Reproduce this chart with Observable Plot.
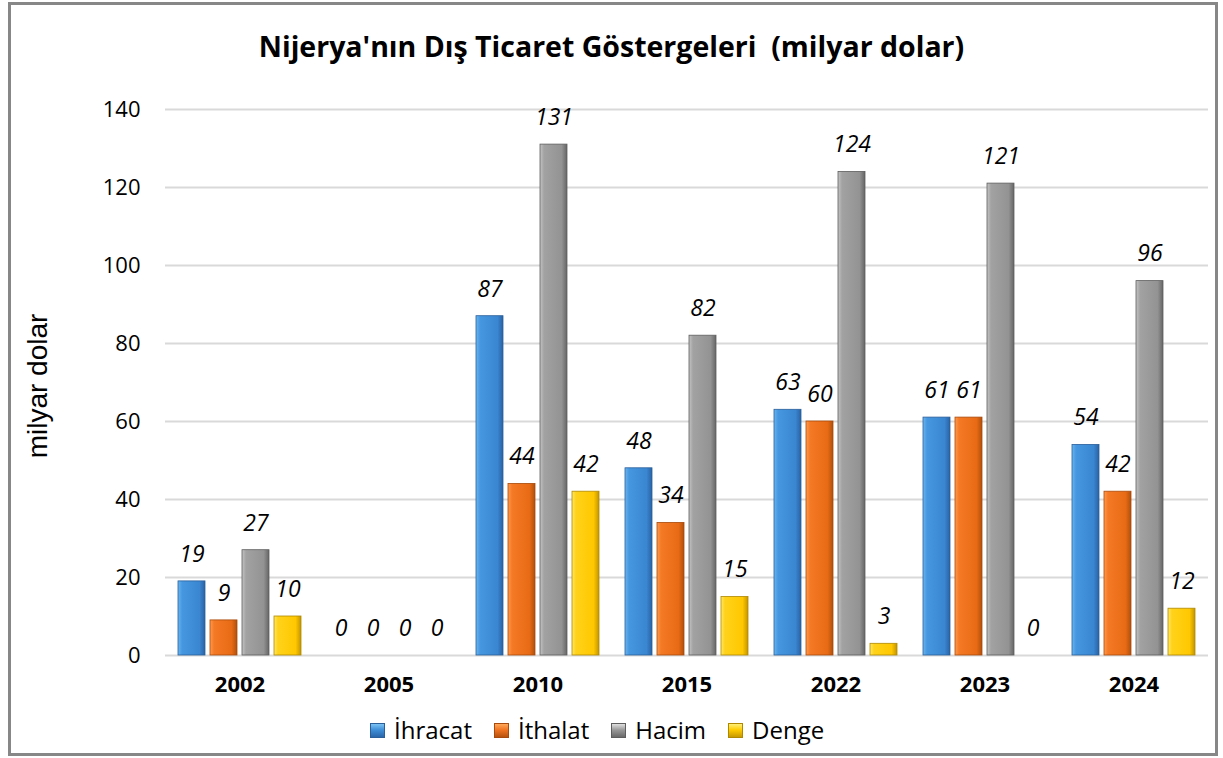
<!DOCTYPE html>
<html><head><meta charset="utf-8">
<script src="https://cdn.jsdelivr.net/npm/d3@7"></script>
<script src="https://cdn.jsdelivr.net/npm/@observablehq/plot@0.6"></script>
<style>
body{margin:0;background:#fff;font-family:"Open Sans",Lato,sans-serif;color:#000;}
#frame{position:absolute;left:8px;top:2px;width:1204px;height:748px;border:3px solid #878787;}
#title{position:absolute;left:0;width:1223px;top:27px;text-align:center;font-weight:bold;font-size:28.5px;line-height:38px;}
#chart{position:absolute;left:0;top:0;}
#ylabel{position:absolute;left:38px;top:386px;transform:translate(-50%,-50%) rotate(-90deg);font-family:"Liberation Sans",Arial,sans-serif;font-size:28px;white-space:nowrap;}
#legend{position:absolute;top:713px;left:370px;display:flex;align-items:center;font-size:24px;line-height:34px;}
#legend .it{display:flex;align-items:center;margin-right:22px;}
#legend .sw{width:15px;height:15px;margin-right:9px;box-sizing:border-box;}
</style></head>
<body>
<div id="frame"></div>
<svg width="0" height="0" style="position:absolute">
  <defs>
    <linearGradient id="gBlue" x1="0" x2="1" y1="0" y2="0">
      <stop offset="0" stop-color="#6cb6f0"/><stop offset="0.15" stop-color="#4597e0"/>
      <stop offset="0.8" stop-color="#3a86d0"/><stop offset="1" stop-color="#2a62a4"/>
    </linearGradient>
    <linearGradient id="gOrange" x1="0" x2="1" y1="0" y2="0">
      <stop offset="0" stop-color="#ff9a4c"/><stop offset="0.15" stop-color="#f57a26"/>
      <stop offset="0.8" stop-color="#e86a14"/><stop offset="1" stop-color="#b0500c"/>
    </linearGradient>
    <linearGradient id="gGray" x1="0" x2="1" y1="0" y2="0">
      <stop offset="0" stop-color="#c4c4c4"/><stop offset="0.15" stop-color="#a2a2a2"/>
      <stop offset="0.8" stop-color="#939393"/><stop offset="1" stop-color="#666666"/>
    </linearGradient>
    <linearGradient id="gYellow" x1="0" x2="1" y1="0" y2="0">
      <stop offset="0" stop-color="#ffe866"/><stop offset="0.15" stop-color="#ffd21a"/>
      <stop offset="0.8" stop-color="#ffc800"/><stop offset="1" stop-color="#c49400"/>
    </linearGradient>
  </defs>
</svg>
<div id="chart"></div>
<div id="title">Nijerya'nın Dış Ticaret Göstergeleri&nbsp; (milyar dolar)</div>
<div id="ylabel">milyar dolar</div>
<div id="legend"></div>
<script>
const years = ["2002","2005","2010","2015","2022","2023","2024"];
const seriesNames = ["İhracat","İthalat","Hacim","Denge"];
const ihracat = [19, 0, 87, 48, 63, 61, 54];
const ithalat = [9, 0, 44, 34, 60, 61, 42];
const hacim   = [27, 0, 131, 82, 124, 121, 96];
const denge   = [10, 0, 42, 15, 3, 0, 12];
const yTicks = [0, 20, 40, 60, 80, 100, 120, 140];

const seriesValues = [ihracat, ithalat, hacim, denge];
const fills = ["url(#gBlue)","url(#gOrange)","url(#gGray)","url(#gYellow)"];
const strokes = ["#2a5f9a","#a84a0c","#5e5e5e","#b08800"];
const legendBg = [
  "linear-gradient(180deg,#7cc2f4 0%,#3f8fd8 45%,#2a66aa 100%)",
  "linear-gradient(180deg,#ffa85a 0%,#f07522 45%,#b8520e 100%)",
  "linear-gradient(180deg,#e0e0e0 0%,#9a9a9a 45%,#6a6a6a 100%)",
  "linear-gradient(180deg,#fff07a 0%,#ffcc00 45%,#c89a00 100%)"
];

const data = [];
seriesNames.forEach((s, i) => years.forEach((y, j) => data.push({year: y, series: s, value: seriesValues[i][j]})));

const barMarks = seriesNames.map((s, i) =>
  Plot.barY(data.filter(d => d.series === s && d.value > 0), {
    fx: "year", x: "series", y: "value",
    fill: fills[i], stroke: strokes[i], strokeWidth: 0.8
  })
);

const chart = Plot.plot({
  width: 1223, height: 700,
  marginLeft: 163, marginRight: 13, marginTop: 109, marginBottom: 45,
  style: {fontFamily: "'Open Sans', Lato, sans-serif", color: "#000", background: "transparent"},
  fx: {domain: years, paddingInner: 0, paddingOuter: 0, label: null},
  x: {domain: seriesNames, paddingInner: 0.16, paddingOuter: 0.4, axis: null},
  y: {domain: [0, 140], label: null},
  marks: [
    Plot.gridY(yTicks, {stroke: "#d9d9d9", strokeOpacity: 1, strokeWidth: 2}),
    Plot.axisY(yTicks, {tickSize: 0, tickPadding: 25, fontSize: 22, label: null}),
    Plot.axisFx({anchor: "bottom", tickSize: 0, tickPadding: 21, fontSize: 22, fontWeight: "bold", label: null}),
    ...barMarks,
    Plot.text(data, {fx: "year", x: "series", y: "value", text: d => String(d.value),
      dy: -27, fontSize: 23, fontStyle: "italic", fill: "#000"})
  ]
});
document.getElementById("chart").appendChild(chart);

const leg = document.getElementById("legend");
seriesNames.forEach((s, i) => {
  const it = document.createElement("div"); it.className = "it";
  const sw = document.createElement("div"); sw.className = "sw";
  sw.style.background = legendBg[i]; sw.style.border = "1px solid " + strokes[i];
  const t = document.createElement("span"); t.textContent = s;
  it.appendChild(sw); it.appendChild(t); leg.appendChild(it);
});
</script>
</body></html>
